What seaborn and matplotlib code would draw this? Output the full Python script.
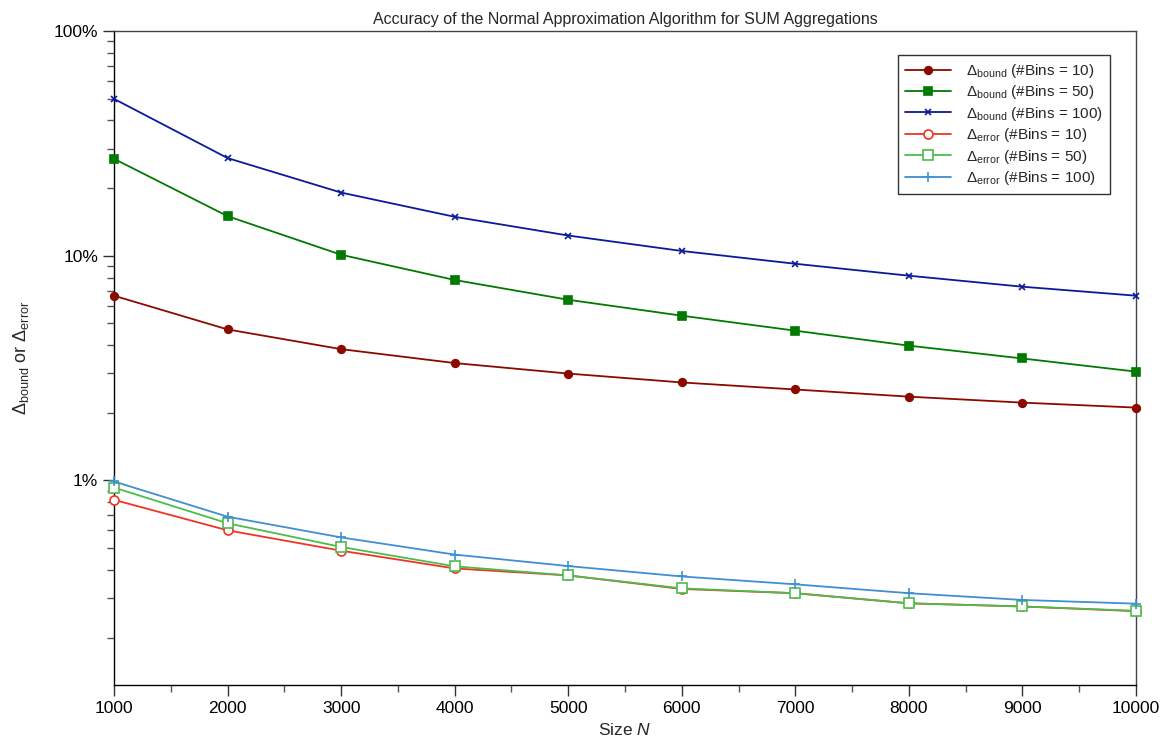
import matplotlib
matplotlib.use("Agg")
import matplotlib.pyplot as plt
import matplotlib.ticker as mticker
import numpy as np
import pandas as pd
import seaborn as sns

# Data set sizes
sizes = [1000, 2000, 3000, 4000, 5000, 6000, 7000, 8000, 9000, 10000]

# Theoretical bounds (percent)
bound_10 = [6.64, 4.70, 3.84, 3.33, 2.99, 2.73, 2.54, 2.36, 2.22, 2.11]
bound_50 = [27.0, 15.0, 10.1, 7.80, 6.37, 5.41, 4.64, 3.98, 3.49, 3.05]
bound_100 = [49.9, 27.2, 19.1, 14.9, 12.3, 10.5, 9.21, 8.15, 7.28, 6.64]

# Observed errors (percent)
error_10 = [0.82, 0.60, 0.487, 0.406, 0.378, 0.329, 0.315, 0.284, 0.275, 0.262]
error_50 = [0.93, 0.645, 0.506, 0.415, 0.378, 0.331, 0.315, 0.284, 0.275, 0.263]
error_100 = [0.99, 0.69, 0.558, 0.468, 0.416, 0.374, 0.345, 0.315, 0.294, 0.283]

labels = [
    r"$\Delta_{\mathrm{bound}}$ (#Bins = 10)",
    r"$\Delta_{\mathrm{bound}}$ (#Bins = 50)",
    r"$\Delta_{\mathrm{bound}}$ (#Bins = 100)",
    r"$\Delta_{\mathrm{error}}$ (#Bins = 10)",
    r"$\Delta_{\mathrm{error}}$ (#Bins = 50)",
    r"$\Delta_{\mathrm{error}}$ (#Bins = 100)",
]

sns.set_style("ticks")
plt.rcParams["font.family"] = ["Liberation Sans", "DejaVu Sans"]
plt.rcParams["mathtext.fontset"] = "custom"
plt.rcParams["mathtext.rm"] = "Liberation Sans"
plt.rcParams["mathtext.it"] = "Liberation Sans:italic"
plt.rcParams["mathtext.bf"] = "Liberation Sans:bold"

fig = plt.figure(figsize=(11.71, 7.49), dpi=100)
ax = fig.add_axes([114 / 1171, 1 - 685 / 749, (1136 - 114) / 1171, (685 - 31) / 749])

series = [
    (bound_10, "#8b0a00", "o", "#8b0a00", 5.5),
    (bound_50, "#007a00", "s", "#007a00", 5.5),
    (bound_100, "#0a1a99", "x", "#0a1a99", 4.5),
    (error_10, "#f03424", "o", "white", 6.5),
    (error_50, "#4cbc4c", "s", "white", 6.5),
    (error_100, "#3f8fd2", "+", "#3f8fd2", 7.5),
]

for (vals, color, marker, face, ms), label in zip(series, labels):
    df = pd.DataFrame({"N": sizes, "delta": vals})
    sns.lineplot(
        data=df, x="N", y="delta", ax=ax, color=color, marker=marker,
        markersize=ms, markerfacecolor=face, markeredgecolor=color,
        markeredgewidth=1.2, linewidth=1.3, label=label, clip_on=False,
        zorder=3,
    )

ax.set_yscale("log")
ax.set_ylim(0.123, 100)
ax.set_xlim(1000, 10000)
ax.set_xticks(sizes)
ax.xaxis.set_minor_locator(mticker.MultipleLocator(500))
ax.yaxis.set_major_locator(mticker.FixedLocator([1, 10, 100]))
ax.yaxis.set_major_formatter(mticker.FuncFormatter(lambda v, p: f"{v:g}%"))
ax.yaxis.set_minor_locator(mticker.LogLocator(base=10, subs=np.arange(2, 10)))
ax.yaxis.set_minor_formatter(mticker.NullFormatter())

ax.tick_params(axis="both", which="major", direction="out", length=8, width=1,
               labelsize=12.5, color="#333333", labelcolor="black")
ax.tick_params(axis="both", which="minor", direction="out", length=5, width=1,
               color="#555555")
for side in ["top", "right", "left", "bottom"]:
    ax.spines[side].set_visible(True)
    ax.spines[side].set_color("black")
    ax.spines[side].set_linewidth(1.0)
ax.spines["top"].set_color("#444444")
ax.spines["right"].set_color("#444444")

ax.set_title("Accuracy of the Normal Approximation Algorithm for SUM Aggregations",
             fontsize=11.5, pad=5)
ax.set_xlabel("Size $N$", fontsize=12.5, labelpad=4)
ax.set_ylabel(r"$\Delta_{\mathrm{bound}}$ or $\Delta_{\mathrm{error}}$", fontsize=13, labelpad=16)

leg = ax.legend(loc="upper right", bbox_to_anchor=(0.9746, 0.963), fontsize=11,
                frameon=True, fancybox=False, edgecolor="#333333", framealpha=1,
                handlelength=3.0, handletextpad=1.0, borderpad=0.45,
                labelspacing=0.22, borderaxespad=0)
leg.get_frame().set_linewidth(1.0)

fig.savefig("out.png", dpi=100)
